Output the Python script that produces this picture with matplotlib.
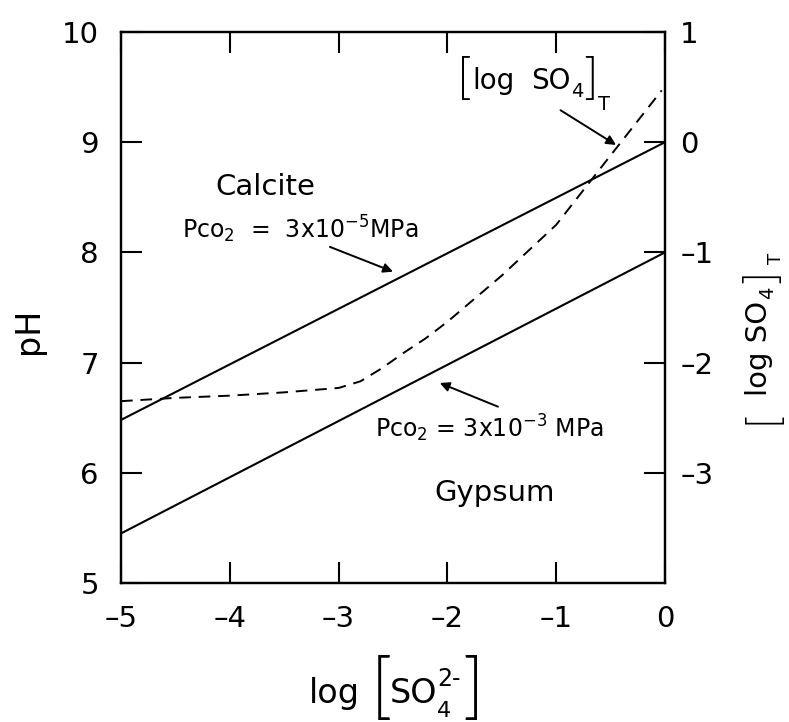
import matplotlib
matplotlib.use("Agg")
import matplotlib.pyplot as plt

# log [SO4 2-] values and pH of the calcite-gypsum equilibrium lines
log_so4_line = [-5.0, 0.0]
ph_pco2_low = [6.48, 9.0]    # Pco2 = 3x10^-5 MPa
ph_pco2_high = [5.45, 8.0]   # Pco2 = 3x10^-3 MPa

# total sulfate curve (dashed)
log_so4_dash = [-5.0, -4.5, -4.0, -3.5, -3.0, -2.8, -2.6, -2.4, -2.2, -2.0,
                -1.5, -1.0, -0.5, -0.03]
ph_dash = [6.65, 6.68, 6.70, 6.73, 6.77, 6.83, 6.95, 7.09, 7.22, 7.37,
           7.79, 8.25, 8.88, 9.47]

x_ticks = [-5, -4, -3, -2, -1, 0]
x_ticklabels = ["\u20135", "\u20134", "\u20133", "\u20132", "\u20131", "0"]
y_ticks = [5, 6, 7, 8, 9, 10]
y2_ticks = [1, 0, -1, -2, -3]
y2_ticklabels = ["1", "0", "\u20131", "\u20132", "\u20133"]

plt.rcParams["font.family"] = ["DejaVu Sans"]
plt.rcParams["mathtext.fontset"] = "dejavusans"

W, H = 789, 722
fig = plt.figure(figsize=(W / 100, H / 100), dpi=100)
ax = fig.add_axes([0.1534, 0.1925, 0.6894, 0.7632])


def px(x, y):
    """Pixel position (from the top-left corner) to figure fraction."""
    return x / W, 1 - y / H


BRACKET = dict(family=["Lato", "DejaVu Sans"], weight=300,
               ha="center", va="center")


def ftext(x, y, s, size, **kw):
    opts = dict(ha="left", va="baseline")
    opts.update(kw)
    fig.text(*px(x, y), s, fontsize=size, **opts)


ax.plot(log_so4_line, ph_pco2_low, color="black", lw=1.5)
ax.plot(log_so4_line, ph_pco2_high, color="black", lw=1.5)
ax.plot(log_so4_dash, ph_dash, color="black", lw=1.4, ls=(0, (6, 4)))

ax.set_xlim(-5, 0)
ax.set_ylim(5, 10)
ax.set_xticks(x_ticks)
ax.set_xticklabels(x_ticklabels)
ax.set_yticks(y_ticks)
ax.tick_params(axis="both", direction="in", length=15, width=1.5,
               labelsize=21, top=True)
ax.tick_params(axis="x", pad=16)
ax.tick_params(axis="y", pad=16)
for s in ax.spines.values():
    s.set_linewidth(1.6)

ax2 = ax.twinx()
ax2.set_ylim(-4, 1)
ax2.set_yticks(y2_ticks)
ax2.set_yticklabels(y2_ticklabels)
ax2.tick_params(axis="y", direction="in", length=15, width=1.5,
                labelsize=21, pad=11)
for s in ax2.spines.values():
    s.set_linewidth(1.6)

# left axis title
ftext(38, 331, "pH", 24, rotation=90, rotation_mode="anchor", ha="center")

# bottom axis title: log [SO4 2-]
ftext(309, 703, "log", 24)
ftext(381, 690, "[", 52, **BRACKET)
ftext(390, 703, "SO", 24)
ftext(437, 717, "4", 16)
ftext(437, 686, "2-", 17)
ftext(473, 690, "]", 52, **BRACKET)

# right axis title: [log SO4]T
rot = dict(rotation=90, rotation_mode="anchor")
ftext(763, 417, "[", 32, **BRACKET, rotation=90)
ftext(767, 396, "log SO", 21, **rot)
ftext(773, 299, "4", 14, **rot)
ftext(763, 276, "]", 32, **BRACKET, rotation=90)
ftext(781, 264, "T", 13, **rot)

# curve label near the top right
ftext(464, 80, "[", 36, **BRACKET)
ftext(472, 89, "log", 20)
ftext(531, 89, "SO", 20)
ftext(571, 97, "4", 14)
ftext(591, 80, "]", 36, **BRACKET)
ftext(598, 110, "T", 14)

arrow = dict(arrowstyle="-|>", color="black", lw=1.4, mutation_scale=14,
             shrinkA=0, shrinkB=0)
ax.annotate("", xy=(-0.45, 8.975), xytext=(-0.96, 9.29), arrowprops=arrow)

# field and line labels
ax.text(-3.67, 8.59, "Calcite", fontsize=21, ha="center", va="center")
ax.text(-1.57, 5.82, "Gypsum", fontsize=21, ha="center", va="center")

ax.text(-4.44, 8.13, r"Pco$_2$  =  3x10$^{-5}$MPa", fontsize=17,
        ha="left", va="baseline")
ax.annotate("", xy=(-2.50, 7.825), xytext=(-3.08, 8.05), arrowprops=arrow)

ax.text(-2.67, 6.32, r"Pco$_2$ = 3x10$^{-3}$ MPa", fontsize=17,
        ha="left", va="baseline")
ax.annotate("", xy=(-2.07, 6.815), xytext=(-1.535, 6.60), arrowprops=arrow)

fig.savefig("out.png", dpi=100)
